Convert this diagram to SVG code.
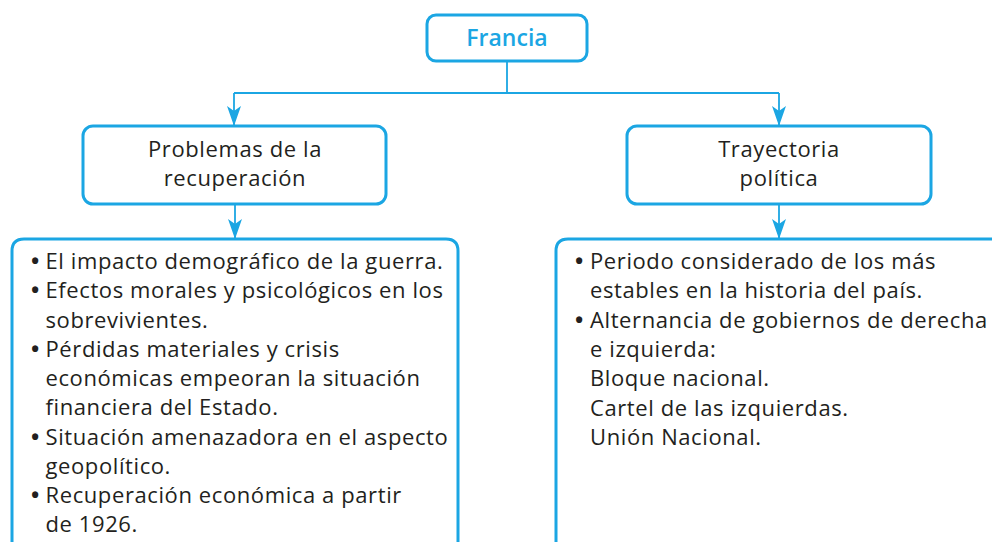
<svg xmlns="http://www.w3.org/2000/svg" width="992" height="542" viewBox="0 0 992 542">
<defs>
<style>
.box{fill:#fff;stroke:#1ba6e3;stroke-width:3}
.ln{fill:none;stroke:#1ba6e3;stroke-width:1.8}
.t{font-family:"Open Sans","Liberation Sans",sans-serif;font-size:22px;letter-spacing:0.6px;fill:#231f20}
.b{font-weight:700;letter-spacing:0}
.c{text-anchor:middle}
.h{font-family:"Open Sans","Liberation Sans",sans-serif;font-size:23px;fill:#1ba6e3;font-weight:600;text-anchor:middle}
</style>
<marker id="ar" markerWidth="20" markerHeight="14" refX="19" refY="7" orient="auto" markerUnits="userSpaceOnUse" viewBox="0 0 20 14">
<path d="M0,0 L20,7 L0,14 L5,7 Z" fill="#1ba6e3"/>
</marker>
</defs>
<rect width="992" height="542" fill="#fff"/>
<g id="connectors">
<path class="ln" d="M507,61 V93 M234,93 H779"/>
<path class="ln" d="M234,93 V125" marker-end="url(#ar)"/>
<path class="ln" d="M779,93 V125" marker-end="url(#ar)"/>
<path class="ln" d="M235,204 V238" marker-end="url(#ar)"/>
<path class="ln" d="M779,204 V238" marker-end="url(#ar)"/>
</g>
<g id="francia">
<rect class="box" x="427" y="15" width="160" height="46" rx="9"/>
<text class="h" x="507" y="46">Francia</text>
</g>
<g id="problemas">
<rect class="box" x="83" y="126" width="303" height="78" rx="10"/>
<text class="t c" x="235" y="157">Problemas de la</text>
<text class="t c" x="235" y="186">recuperación</text>
</g>
<g id="trayectoria">
<rect class="box" x="627" y="126" width="304" height="78" rx="10"/>
<text class="t c" x="779" y="157">Trayectoria</text>
<text class="t c" x="779" y="186">política</text>
</g>
<g id="lista-izq">
<path class="box" d="M12,560 V251 Q12,239 24,239 H446 Q458,239 458,251 V560"/>
<g class="t">
<text class="b" x="31" y="269">•</text><text x="45.5" y="269">El impacto demográfico de la guerra.</text>
<text class="b" x="31" y="298">•</text><text x="45.5" y="298">Efectos morales y psicológicos en los</text>
<text x="45.5" y="328">sobrevivientes.</text>
<text class="b" x="31" y="357">•</text><text x="45.5" y="357">Pérdidas materiales y crisis</text>
<text x="45.5" y="386">económicas empeoran la situación</text>
<text x="45.5" y="415">financiera del Estado.</text>
<text class="b" x="31" y="445">•</text><text x="45.5" y="445">Situación amenazadora en el aspecto</text>
<text x="45.5" y="474">geopolítico.</text>
<text class="b" x="31" y="503">•</text><text x="45.5" y="503">Recuperación económica a partir</text>
<text x="45.5" y="532">de 1926.</text>
</g>
</g>
<g id="lista-der">
<path class="box" d="M556,560 V251 Q556,239 568,239 H1000"/>
<g class="t">
<text class="b" x="575" y="269">•</text><text x="590" y="269">Periodo considerado de los más</text>
<text x="590" y="298">estables en la historia del país.</text>
<text class="b" x="575" y="328">•</text><text x="590" y="328">Alternancia de gobiernos de derecha</text>
<text x="590" y="357">e izquierda:</text>
<text x="590" y="386">Bloque nacional.</text>
<text x="590" y="416">Cartel de las izquierdas.</text>
<text x="590" y="445">Unión Nacional.</text>
</g>
</g>
</svg>
